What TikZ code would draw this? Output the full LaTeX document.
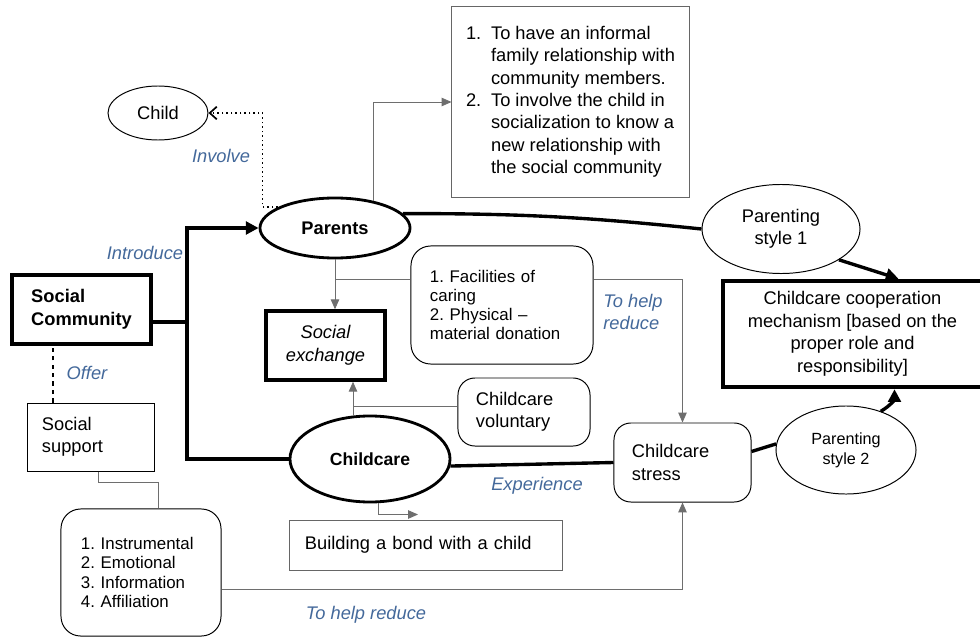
\documentclass[tikz,border=0pt]{standalone}
\usepackage{fontspec}
\setmainfont{Liberation Sans}
\usetikzlibrary{shapes.geometric,arrows.meta,calc}
\definecolor{labelblue}{RGB}{68,105,155}
\definecolor{linkgray}{RGB}{110,110,110}
\newcommand{\bigtext}{\fontsize{13}{16}\selectfont}
\newcommand{\smalltext}{\fontsize{12}{13.6}\selectfont}
\frenchspacing

\begin{document}
\begin{tikzpicture}[x=0.025cm, y=-0.025cm,
		oval/.style={ellipse, draw, line width=0.7pt, inner sep=0pt, align=center, font=\bigtext},
		boldoval/.style={oval, line width=2pt, font=\bigtext\bfseries},
		plainbox/.style={draw, line width=0.7pt, inner sep=0pt, align=left, font=\bigtext},
		roundbox/.style={plainbox, rounded corners=12pt},
		heavybox/.style={plainbox, line width=3pt},
		lbl/.style={font=\bigtext\itshape, text=labelblue},
		link/.style={draw=linkgray, line width=0.6pt, -{Triangle[length=7pt,width=6pt]}},
		plainlink/.style={draw=linkgray, line width=0.6pt},
		heavyline/.style={line width=2.4pt},
		heavyarrow/.style={heavyline, -{Triangle[length=9pt,width=9pt]}}
	]
		\fill[white] (0,0) rectangle (980,637);
		\useasboundingbox (0,0) rectangle (980,637);
		
		% nodes
		\node[oval, minimum width=2.5cm, minimum height=1.35cm] (child) at (158,113) {Child};
		\node[boldoval, minimum width=3.75cm, minimum height=1.5cm] (parents) at (335,228) {Parents};
		\node[plainbox, draw=gray!80!black, minimum width=5.925cm, minimum height=4.75cm] (goals) at (570.5,102) {%
			\begin{tabular}{@{}l@{\hspace{7pt}}l@{}}
				1. & To have an informal\\
				& family relationship with\\
				& community members.\\
				2. & To involve the child in\\
				& socialization to know a\\
				& new relationship with\\
				& the social community
			\end{tabular}};
		\node[heavybox, line width=3.2pt, minimum width=3.475cm, minimum height=1.725cm, font=\bigtext\bfseries] (community) at (81.5,309.5) {Social\\Community};
		\node[plainbox, text width=2.45cm, minimum width=3.15cm, minimum height=1.7cm] (support) at (91,437) {Social\\support};
		\node[roundbox, rounded corners=14pt, text width=3cm, minimum width=4cm, minimum height=3.175cm, font=\smalltext] (supportkinds) at (141,572.5) {1. Instrumental\\2. Emotional\\3. Information\\4. Affiliation};
		\node[heavybox, line width=2.5pt, minimum width=2.975cm, minimum height=1.725cm, align=center, font=\bigtext\itshape] (exchange) at (325.5,345.5) {Social\\exchange};
		\node[roundbox, rounded corners=14pt, text width=3.6cm, minimum width=4.55cm, minimum height=2.95cm, font=\smalltext] (facilities) at (502,305) {1. Facilities of\\caring\\2. Physical --\\material donation};
		\node[roundbox, text width=2.4cm, minimum width=3.3cm, minimum height=1.7cm] (voluntary) at (524,412) {Childcare\\voluntary};
		\node[boldoval, minimum width=4cm, minimum height=2.15cm, font=\fontsize{12.5}{15}\selectfont\bfseries] (childcare) at (370,459) {Childcare};
		\node[plainbox, draw=gray!80!black, text width=6.05cm, minimum width=6.8cm, minimum height=1.25cm] (bond) at (426,545) {Building a bond with a child};
		\node[roundbox, text width=2.525cm, minimum width=3.425cm, minimum height=1.975cm] (stress) at (682.5,462.5) {Childcare\\stress\\[6pt]};
		\node[oval, minimum width=3.95cm, minimum height=2.225cm] (styleone) at (781,229) {Parenting\\style 1};
		\node[oval, minimum width=3.5cm, minimum height=2.2cm, font=\fontsize{11.5}{14}\selectfont] (styletwo) at (846,450) {Parenting\\style 2};
		\node[heavybox, line width=3.2pt, minimum width=6.475cm, minimum height=2.65cm, align=center] (coop) at (852.5,334) {Childcare cooperation\\mechanism [based on the\\proper role and\\responsibility]};
		
		% labels
		\node[lbl] (involve) at (221,156) {Involve};
		\node[lbl] (introduce) at (145,253) {Introduce};
		\node[lbl] (offer) at (87,373) {Offer};
		\node[lbl, align=left] (reduceone) at (633,312) {To help\\reduce};
		\node[lbl] (experience) at (537,486) {Experience};
		\node[lbl] (reducetwo) at (366,615) {To help reduce};
		
		% connectors
		\draw[dotted, line width=1.2pt, -{Straight Barb[length=5pt,width=9pt]}] (parents.160) -| ($(child.east)+(54,0)$) -- (child.east);
		\draw[link] (parents.35) |- (goals.west);
		
		\coordinate (fork) at (187,322);
		\draw[heavyline] (fork -| community.east) -- (fork);
		\draw[heavyarrow] (fork) |- (parents.west);
		\draw[heavyline] (fork) |- (childcare.west);
		
		\coordinate (offertop) at ($(support.north)+(-38,0)$);
		\draw[dashed, line width=0.8pt] (offertop) -- (offertop |- community.south);
		\draw[plainlink] ($(support.south)+(7,0)$) -- ++(0,11) -| ($(supportkinds.north)+(17,0)$);
		\draw[link] ($(supportkinds.east)+(0,17)$) -| (stress.south);
		
		\draw[link] (parents.south) -- (parents.south |- exchange.north);
		\coordinate (facout) at ($(facilities.west)+(0,-26)$);
		\draw[plainlink] (facout) -- (facout -| parents.south);
		\draw[link] ($(facilities.east)+(0,-26)$) -| (stress.north);
		
		\coordinate (careup) at ($(childcare.north)+(-17,0)$);
		\draw[link] (careup) -- (careup |- exchange.south);
		\coordinate (volin) at ($(voluntary.west)+(0,-6)$);
		\draw[plainlink] (volin) -- (volin -| careup);
		\draw[link] ($(childcare.south)+(8,0)$) |- ($(bond.north)+(-8,-5)$);
		
		\draw[heavyline] (childcare.-5) -- (stress.west);
		\draw[heavyline] ($(stress.east)+(0,-11)$) -- (styletwo.175);
		\draw[heavyarrow] (styletwo.48) .. controls +(10,-6) and +(0,10) .. ($(coop.south)+(42,0)$);
		\draw[heavyline] (parents.12) to[bend left=3] (styleone.west);
		\draw[heavyarrow] (styleone.-28) -- ($(coop.north)+(46,0)$);
	\end{tikzpicture}
\end{document}
